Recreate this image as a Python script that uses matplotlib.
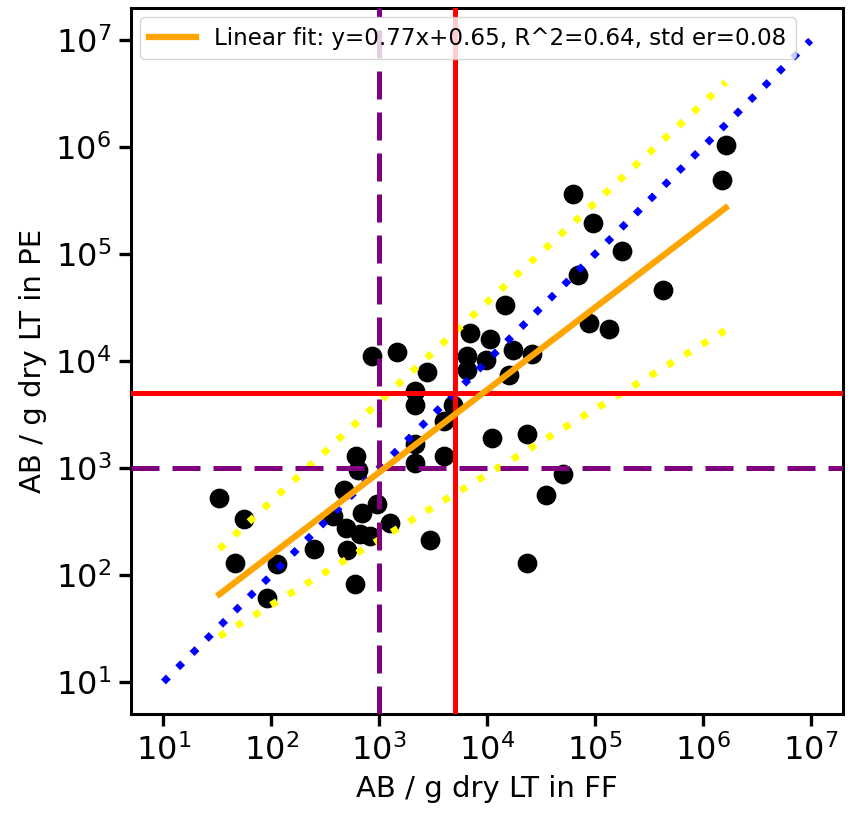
import numpy as np
import matplotlib
matplotlib.use("Agg")
import matplotlib.pyplot as plt

# abundance per g dry LT, FF (x) vs PE (y)
ff = [33, 56, 46, 114, 92, 250, 474, 375, 495, 505, 600, 697, 667, 826, 957,
      1265, 612, 640, 2965, 23440, 35170, 50550, 11120, 23440, 4000, 2154,
      2154, 4000, 4842, 2154, 2154, 2782, 861, 1468, 6530, 6530, 6970, 10660,
      9790, 17410, 16000, 26120, 14680, 62550, 95700, 177800, 69660, 426600,
      87900, 134900, 1633000, 1500000]
pe = [526, 334, 130, 127, 61, 175, 625, 357, 275, 171, 82, 381, 242, 232, 462,
      307, 1301, 962, 213, 130, 561, 883, 1918, 2090, 1301, 1119, 1686, 2767,
      3908, 3908, 5285, 7960, 11240, 12250, 8310, 11240, 18450, 16200, 10300,
      12790, 7460, 11730, 33730, 369000, 197600, 108100, 64420, 46650, 22910,
      20100, 1040000, 489000]

# fit in log space and band edges
fit_slope, fit_icpt = 0.77, 0.65
band_hi = (0.93, 0.83)
band_lo = (0.61, 0.50)
r2, std_er = 0.64, 0.08

one_to_one = [10, 1e7]
low_thr = 1000
high_thr = 5000

fig = plt.figure(figsize=(8.51, 8.22), dpi=100)
ax = fig.add_axes([0.154, 0.1314, 0.8366, 0.8586])

ax.scatter(ff, pe, s=175, color="black", zorder=2)

lx = np.log10(ff)
xs = np.array([lx.min(), lx.max()])

ax.plot(one_to_one, one_to_one, color="blue", lw=5, dashes=(1, 1.9), zorder=3)
for sl, ic in (band_hi, band_lo):
    ax.plot(10 ** xs, 10 ** (sl * xs + ic), color="yellow", lw=5,
            dashes=(1, 1.9), zorder=3)

ax.axvline(low_thr, color="purple", lw=3.6, dashes=(5.6, 2.6), zorder=4)
ax.axhline(low_thr, color="purple", lw=3.6, dashes=(5.6, 2.6), zorder=4)
ax.axvline(high_thr, color="red", lw=3.6, zorder=5)
ax.axhline(high_thr, color="red", lw=3.6, zorder=5)

ax.plot(10 ** xs, 10 ** (fit_slope * xs + fit_icpt), color="orange", lw=4.5,
        zorder=6,
        label=f"Linear fit: y={fit_slope}x+{fit_icpt}, R^2={r2}, std er={std_er}")

ax.set_xscale("log")
ax.set_yscale("log")
ax.set_xlim(10 ** 0.7, 10 ** 7.3)
ax.set_ylim(10 ** 0.7, 10 ** 7.3)
ax.set_xticks([10 ** k for k in range(1, 8)])
ax.set_yticks([10 ** k for k in range(1, 8)])
ax.minorticks_off()
ax.tick_params(labelsize=23, width=2.4, length=8.5, pad=6)
for sp in ax.spines.values():
    sp.set_linewidth(2.2)

ax.set_xlabel("AB / g dry LT in FF", fontsize=21, labelpad=6)
ax.set_ylabel("AB / g dry LT in PE", fontsize=21, labelpad=6)
ax.legend(loc="upper left", fontsize=16.6, handlelength=2.0,
          borderaxespad=0.4)

fig.savefig("out.png", dpi=100)
